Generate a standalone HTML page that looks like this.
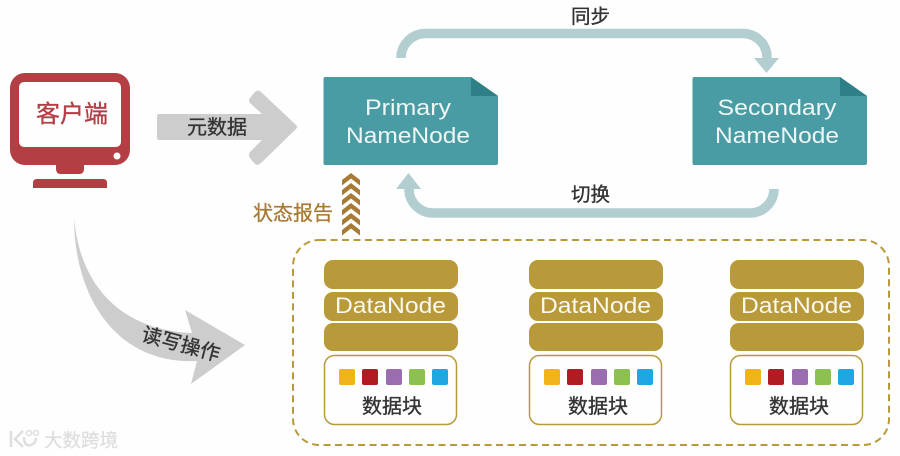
<!DOCTYPE html>
<html><head><meta charset="utf-8">
<style>
html,body{margin:0;padding:0;background:#fefefe;width:900px;height:456px;overflow:hidden}
svg{display:block}
text{font-family:"Liberation Sans","Noto Sans CJK SC",sans-serif}
.c{stroke-width:.35}
</style></head><body>
<svg width="900" height="456" viewBox="0 0 900 456" xmlns="http://www.w3.org/2000/svg">
<rect width="900" height="456" fill="#fefefe"/>

<!-- monitor -->
<rect x="10" y="73" width="120" height="92" rx="15" fill="#b33f45"/>
<rect x="19" y="82" width="102" height="65" rx="5" fill="#fefefe"/>
<circle cx="117" cy="156" r="3.500" fill="#fefefe"/>
<path d="M56 164H84V169Q84 174 79 174H61Q56 174 56 169Z" fill="#b33f45"/>
<path d="M33 188V183Q33 179 37 179H103Q107 179 107 183V188Z" fill="#b33f45"/>
<text class="c" x="72" y="122" font-size="24" fill="#b33f45" stroke="#b33f45" text-anchor="middle">客户端</text>

<!-- metadata arrow -->
<path d="M159 114H262L250 103Q248 100 250 98L255 92Q258 89 261 92L296 125Q298 127 296 129L261 163Q258 166 255 164L250 158Q248 155 250 152L262 140H159Q157 140 157 138V116Q157 114 159 114Z" fill="#cdcdcd"/>
<text class="c" x="217" y="134" font-size="20" fill="#333" stroke="#333" text-anchor="middle">元数据</text>

<!-- sync loop -->
<path d="M401 58A24.500 24.500 0 0 1 425.500 33.500H743A24 24 0 0 1 767 58" fill="none" stroke="#b3ced1" stroke-width="9.500"/>
<path d="M754 58H779L766.500 73Z" fill="#b3ced1"/>
<text class="c" x="590.500" y="23" font-size="19.500" fill="#333" stroke="#333" text-anchor="middle">同步</text>

<!-- switch loop -->
<path d="M774 189A24 24 0 0 1 750 213H433A24 24 0 0 1 409 189" fill="none" stroke="#b3ced1" stroke-width="9.500"/>
<path d="M396 189H421L408.500 173Z" fill="#b3ced1"/>
<text class="c" x="590.500" y="201" font-size="19.500" fill="#333" stroke="#333" text-anchor="middle">切换</text>

<!-- name nodes -->
<path d="M325 77H471L498 96V163Q498 165 496 165H325Q323.500 165 323.500 163V79Q323.500 77 325 77Z" fill="#4a9ca4"/>
<path d="M471 77L498 96H471Z" fill="#2f7f86"/>
<text x="408" y="115" font-size="22" fill="#eef6f6" text-anchor="middle" textLength="86" lengthAdjust="spacingAndGlyphs">Primary</text>
<text x="408" y="143" font-size="22" fill="#eef6f6" text-anchor="middle" textLength="124" lengthAdjust="spacingAndGlyphs">NameNode</text>

<path d="M694 77H840L867 96V163Q867 165 865 165H694Q692.500 165 692.500 163V79Q692.500 77 694 77Z" fill="#4a9ca4"/>
<path d="M840 77L867 96H840Z" fill="#2f7f86"/>
<text x="777" y="115" font-size="22" fill="#eef6f6" text-anchor="middle" textLength="119" lengthAdjust="spacingAndGlyphs">Secondary</text>
<text x="777" y="143" font-size="22" fill="#eef6f6" text-anchor="middle" textLength="124" lengthAdjust="spacingAndGlyphs">NameNode</text>

<!-- chevrons -->
<g fill="#a87b35">
<path d="M342 180L351 173L360 180V185.500L351 178.500L342 185.500Z"/>
<path d="M342 190L351 183L360 190V195.500L351 188.500L342 195.500Z"/>
<path d="M342 200L351 193L360 200V205.500L351 198.500L342 205.500Z"/>
<path d="M342 210L351 203L360 210V215.500L351 208.500L342 215.500Z"/>
<path d="M342 220L351 213L360 220V225.500L351 218.500L342 225.500Z"/>
<path d="M342 230L351 223L360 230V235.500L351 228.500L342 235.500Z"/>
</g>
<text class="c" x="293" y="220" font-size="20" fill="#a87b35" stroke="#a87b35" text-anchor="middle">状态报告</text>

<!-- dashed container -->
<rect x="293" y="240" width="596" height="205" rx="26" fill="none" stroke="#b89a3a" stroke-width="2" stroke-dasharray="7 4.500"/>

<!-- datanode column 1 -->
<g>
<rect x="324" y="260" width="134" height="29" rx="9" fill="#b89a3a"/>
<rect x="324" y="292" width="134" height="29" rx="9" fill="#b89a3a"/>
<rect x="324" y="323" width="134" height="28" rx="9" fill="#b89a3a"/>
<text x="390.500" y="313" font-size="22" fill="#fbf8ee" text-anchor="middle" textLength="111" lengthAdjust="spacingAndGlyphs">DataNode</text>
<rect x="324.500" y="355.500" width="132" height="69" rx="10" fill="#fefefe" stroke="#b89a3a" stroke-width="1.500"/>
<rect x="339" y="369" width="16" height="16" rx="2" fill="#f0b31a"/>
<rect x="362" y="369" width="16" height="16" rx="2" fill="#b01c22"/>
<rect x="386" y="369" width="16" height="16" rx="2" fill="#9a6cb0"/>
<rect x="409" y="369" width="16" height="16" rx="2" fill="#8cc152"/>
<rect x="432" y="369" width="16" height="16" rx="2" fill="#1ea7e1"/>
<text class="c" x="392" y="413" font-size="20" fill="#333" stroke="#333" text-anchor="middle">数据块</text>
</g>
<!-- column 2 -->
<g>
<rect x="529" y="260" width="134" height="29" rx="9" fill="#b89a3a"/>
<rect x="529" y="292" width="134" height="29" rx="9" fill="#b89a3a"/>
<rect x="529" y="323" width="134" height="28" rx="9" fill="#b89a3a"/>
<text x="595.500" y="313" font-size="22" fill="#fbf8ee" text-anchor="middle" textLength="111" lengthAdjust="spacingAndGlyphs">DataNode</text>
<rect x="529.500" y="355.500" width="132" height="69" rx="10" fill="#fefefe" stroke="#b89a3a" stroke-width="1.500"/>
<rect x="544" y="369" width="16" height="16" rx="2" fill="#f0b31a"/>
<rect x="567" y="369" width="16" height="16" rx="2" fill="#b01c22"/>
<rect x="591" y="369" width="16" height="16" rx="2" fill="#9a6cb0"/>
<rect x="614" y="369" width="16" height="16" rx="2" fill="#8cc152"/>
<rect x="637" y="369" width="16" height="16" rx="2" fill="#1ea7e1"/>
<text class="c" x="598" y="413" font-size="20" fill="#333" stroke="#333" text-anchor="middle">数据块</text>
</g>
<!-- column 3 -->
<g>
<rect x="730" y="260" width="134" height="29" rx="9" fill="#b89a3a"/>
<rect x="730" y="292" width="134" height="29" rx="9" fill="#b89a3a"/>
<rect x="730" y="323" width="134" height="28" rx="9" fill="#b89a3a"/>
<text x="796.500" y="313" font-size="22" fill="#fbf8ee" text-anchor="middle" textLength="111" lengthAdjust="spacingAndGlyphs">DataNode</text>
<rect x="730.500" y="355.500" width="132" height="69" rx="10" fill="#fefefe" stroke="#b89a3a" stroke-width="1.500"/>
<rect x="745" y="369" width="16" height="16" rx="2" fill="#f0b31a"/>
<rect x="768" y="369" width="16" height="16" rx="2" fill="#b01c22"/>
<rect x="792" y="369" width="16" height="16" rx="2" fill="#9a6cb0"/>
<rect x="815" y="369" width="16" height="16" rx="2" fill="#8cc152"/>
<rect x="838" y="369" width="16" height="16" rx="2" fill="#1ea7e1"/>
<text class="c" x="799" y="413" font-size="20" fill="#333" stroke="#333" text-anchor="middle">数据块</text>
</g>

<!-- curved arrow -->
<path d="M74 218C80 285 120 330 192 333L185 310L245 345L191 384L197 361C115 365 74 295 74 218Z" fill="#cdcdcd"/>
<text class="c" x="181" y="351" font-size="20" fill="#333" stroke="#333" text-anchor="middle" transform="rotate(15 181 344)">读写操作</text>

<!-- watermark -->
<g fill="none" stroke="#dedede" stroke-width="2.500">
<path d="M11 431V447"/>
<path d="M23 431L15 439L23 447"/>
<path d="M24 437Q24 447 31 445Q36 443 36 438"/>
<circle cx="29" cy="433" r="2.500" stroke-width="1.500"/>
<circle cx="36" cy="433" r="2.500" stroke-width="1.500"/>
</g>
<text x="81" y="447" font-size="18.500" fill="#dcdcdc" text-anchor="middle" stroke="#e4e4e4" stroke-width=".4">大数跨境</text>
</svg>
</body></html>
